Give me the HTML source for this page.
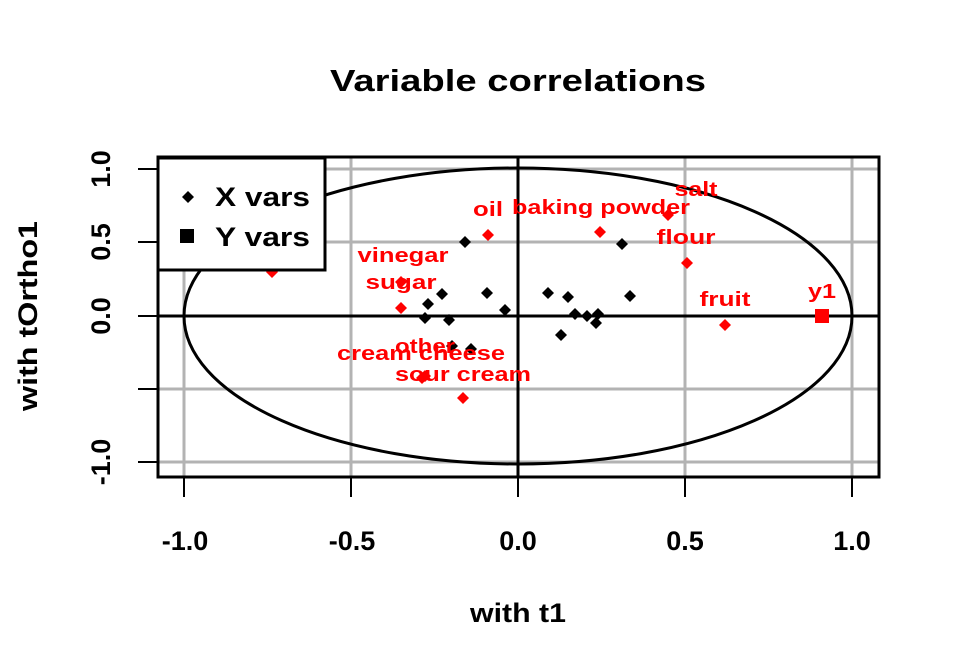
<!DOCTYPE html>
<html><head><meta charset="utf-8"><style>body{margin:0;background:#fff}svg{display:block}</style></head>
<body>
<svg width="960" height="672" xmlns="http://www.w3.org/2000/svg" font-family="Liberation Sans, sans-serif" font-weight="bold">
<rect width="960" height="672" fill="#fff"/>
<text x="518" y="91" font-size="31" text-anchor="middle" textLength="376" lengthAdjust="spacingAndGlyphs">Variable correlations</text>
<g stroke="#b3b3b3" stroke-width="3">
<line x1="184" y1="158" x2="184" y2="476"/><line x1="351" y1="158" x2="351" y2="476"/><line x1="685" y1="158" x2="685" y2="476"/><line x1="852" y1="158" x2="852" y2="476"/>
<line x1="158" y1="169" x2="879" y2="169"/><line x1="158" y1="242" x2="879" y2="242"/><line x1="158" y1="389" x2="879" y2="389"/><line x1="158" y1="462" x2="879" y2="462"/>
</g>
<g stroke="#000" stroke-width="3">
<line x1="158" y1="316" x2="879" y2="316"/><line x1="518" y1="158" x2="518" y2="476"/>
<ellipse cx="518" cy="316" rx="334" ry="148" fill="none"/>
</g>
<g fill="#000">
<path d="M0-6L6 0 0 6-6 0Z" transform="translate(465,242)"/><path d="M0-6L6 0 0 6-6 0Z" transform="translate(622,244)"/>
<path d="M0-6L6 0 0 6-6 0Z" transform="translate(630,296)"/><path d="M0-6L6 0 0 6-6 0Z" transform="translate(548,293)"/>
<path d="M0-6L6 0 0 6-6 0Z" transform="translate(568,297)"/><path d="M0-6L6 0 0 6-6 0Z" transform="translate(487,293)"/>
<path d="M0-6L6 0 0 6-6 0Z" transform="translate(442,294)"/><path d="M0-6L6 0 0 6-6 0Z" transform="translate(428,304)"/>
<path d="M0-6L6 0 0 6-6 0Z" transform="translate(425,318)"/><path d="M0-6L6 0 0 6-6 0Z" transform="translate(449,320)"/>
<path d="M0-6L6 0 0 6-6 0Z" transform="translate(505,310)"/><path d="M0-6L6 0 0 6-6 0Z" transform="translate(575,314)"/>
<path d="M0-6L6 0 0 6-6 0Z" transform="translate(587,316)"/><path d="M0-6L6 0 0 6-6 0Z" transform="translate(598,314)"/>
<path d="M0-6L6 0 0 6-6 0Z" transform="translate(596,323)"/><path d="M0-6L6 0 0 6-6 0Z" transform="translate(561,335)"/>
<path d="M0-6L6 0 0 6-6 0Z" transform="translate(452,346)"/><path d="M0-6L6 0 0 6-6 0Z" transform="translate(471,349)"/>
</g>
<g fill="#f00">
<path d="M0-6L6 0 0 6-6 0Z" transform="translate(488,235)"/><path d="M0-6L6 0 0 6-6 0Z" transform="translate(600,232)"/>
<path d="M0-6L6 0 0 6-6 0Z" transform="translate(668,215)"/><path d="M0-6L6 0 0 6-6 0Z" transform="translate(687,263)"/>
<path d="M0-6L6 0 0 6-6 0Z" transform="translate(725,325)"/><path d="M0-6L6 0 0 6-6 0Z" transform="translate(401,282)"/>
<path d="M0-6L6 0 0 6-6 0Z" transform="translate(401,308)"/><path d="M0-6L6 0 0 6-6 0Z" transform="translate(422,378)"/>
<path d="M0-6L6 0 0 6-6 0Z" transform="translate(425,376)"/>
<path d="M0-6L6 0 0 6-6 0Z" transform="translate(463,398)"/><path d="M0-6L6 0 0 6-6 0Z" transform="translate(272,272)"/>
<rect x="815" y="309" width="14" height="14"/>
</g>
<g fill="#f00" font-size="20" text-anchor="middle" lengthAdjust="spacingAndGlyphs">
<text x="696" y="196" textLength="43" lengthAdjust="spacingAndGlyphs">salt</text>
<text x="488" y="216" textLength="30" lengthAdjust="spacingAndGlyphs">oil</text>
<text x="601" y="214" textLength="178" lengthAdjust="spacingAndGlyphs">baking powder</text>
<text x="686" y="244" textLength="59" lengthAdjust="spacingAndGlyphs">flour</text>
<text x="725" y="306" textLength="51" lengthAdjust="spacingAndGlyphs">fruit</text>
<text x="822" y="298" textLength="28" lengthAdjust="spacingAndGlyphs">y1</text>
<text x="403" y="262" textLength="91" lengthAdjust="spacingAndGlyphs">vinegar</text>
<text x="401" y="289" textLength="71" lengthAdjust="spacingAndGlyphs">sugar</text>
<text x="425" y="353" textLength="60" lengthAdjust="spacingAndGlyphs">other</text>
<text x="421" y="360" textLength="168" lengthAdjust="spacingAndGlyphs">cream cheese</text>
<text x="463" y="381" textLength="136" lengthAdjust="spacingAndGlyphs">sour cream</text>
</g>
<rect x="158" y="158" width="167" height="112" fill="#fff" stroke="#000" stroke-width="3"/>
<path d="M0-6L6 0 0 6-6 0Z" transform="translate(188,197)"/>
<rect x="180" y="229" width="14" height="14"/>
<text x="215" y="206" font-size="27" textLength="95" lengthAdjust="spacingAndGlyphs">X vars</text>
<text x="215" y="246" font-size="27" textLength="95" lengthAdjust="spacingAndGlyphs">Y vars</text>
<rect x="158" y="157" width="721" height="320" fill="none" stroke="#000" stroke-width="3"/>
<g stroke="#000" stroke-width="2">
<line x1="184" y1="477" x2="184" y2="497"/><line x1="351" y1="477" x2="351" y2="497"/><line x1="518" y1="477" x2="518" y2="497"/><line x1="685" y1="477" x2="685" y2="497"/><line x1="852" y1="477" x2="852" y2="497"/>
<line x1="138" y1="169" x2="158" y2="169"/><line x1="138" y1="242" x2="158" y2="242"/><line x1="138" y1="316" x2="158" y2="316"/><line x1="138" y1="389" x2="158" y2="389"/><line x1="138" y1="462" x2="158" y2="462"/>
</g>
<g font-size="27" text-anchor="middle">
<text x="185" y="550">-1.0</text><text x="352" y="550">-0.5</text><text x="518" y="550">0.0</text><text x="685" y="550">0.5</text><text x="852" y="550">1.0</text>
<text transform="translate(110,169) rotate(-90)">1.0</text><text transform="translate(110,242) rotate(-90)">0.5</text>
<text transform="translate(110,316) rotate(-90)">0.0</text><text transform="translate(110,462) rotate(-90)">-1.0</text>
<text x="518" y="622" textLength="96" lengthAdjust="spacingAndGlyphs">with t1</text>
<text transform="translate(37,316) rotate(-90)" textLength="190" lengthAdjust="spacingAndGlyphs">with tOrtho1</text>
</g>
</svg>
</body></html>
